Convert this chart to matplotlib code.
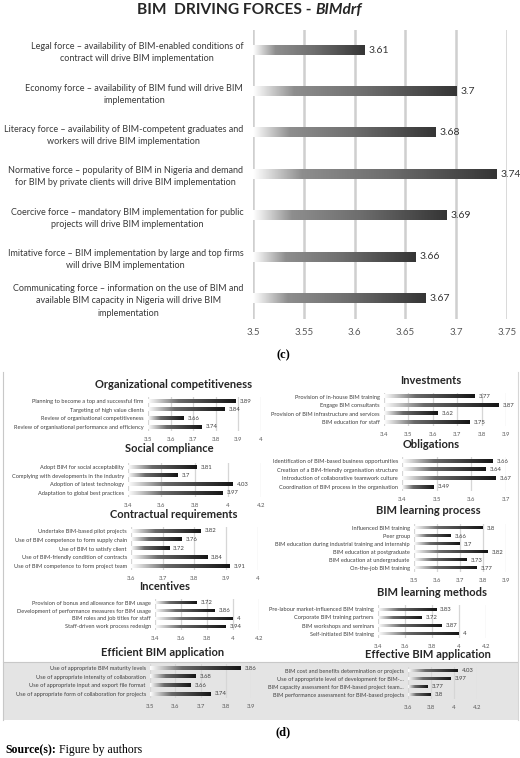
import numpy as np
import matplotlib
matplotlib.use('Agg')
import matplotlib.pyplot as plt
from matplotlib.colors import LinearSegmentedColormap
from matplotlib.patches import Rectangle
from matplotlib.lines import Line2D

plt.rcParams['font.family'] = ['Lato', 'DejaVu Sans']

W, H = 520, 758

# ---- (c) BIM driving forces ----
drf_labels = ['Legal force \u2013 availability of BIM-enabled conditions of\ncontract will drive BIM implementation',
              'Economy force \u2013 availability of BIM fund will drive BIM\nimplementation',
              'Literacy force \u2013 availability of BIM-competent graduates and\nworkers will drive BIM implementation',
              'Normative force \u2013 popularity of BIM in Nigeria and demand\nfor BIM by private clients will drive BIM implementation',
              'Coercive force \u2013 mandatory BIM implementation for public\nprojects will drive BIM implementation',
              'Imitative force \u2013 BIM implementation by large and top firms\nwill drive BIM implementation',
              'Communicating force \u2013 information on the use of BIM and\navailable BIM capacity in Nigeria will drive BIM\nimplementation']
drf_values = [3.61, 3.7, 3.68, 3.74, 3.69, 3.66, 3.67]
drf_ticks = [3.5, 3.55, 3.6, 3.65, 3.7, 3.75]

# ---- (d) small charts ----
org_labels = ['Planning to become a top and successful firm', 'Targeting of high value clients',
              'Review of organisational competitiveness', 'Review of organisational performance and efficiency']
org_values = [3.89, 3.84, 3.66, 3.74]
org_ticks = [3.5, 3.6, 3.7, 3.8, 3.9, 4]

soc_labels = ['Adopt BIM for social acceptability', 'Complying with developments in the industry',
              'Adoption of latest technology', 'Adaptation to global best practices']
soc_values = [3.81, 3.7, 4.03, 3.97]
soc_ticks = [3.4, 3.6, 3.8, 4, 4.2]

con_labels = ['Undertake BIM-based pilot projects', 'Use of BIM competence to form supply chain',
              'Use of BIM to satisfy client', 'Use of BIM-friendly condition of contracts',
              'Use of BIM competence to form project team']
con_values = [3.82, 3.76, 3.72, 3.84, 3.91]
con_ticks = [3.6, 3.7, 3.8, 3.9, 4]

inc_labels = ['Provision of bonus and allowance for BIM usage', 'Development of performance measures for BIM usage',
              'BIM roles and job titles for staff', 'Staff-driven work process redesign']
inc_values = [3.72, 3.86, 4, 3.94]
inc_ticks = [3.4, 3.6, 3.8, 4, 4.2]

eff_labels = ['Use of appropriate BIM maturity levels', 'Use of appropriate intensity of collaboration',
              'Use of appropriate input and export file format', 'Use of appropriate form of collaboration for projects']
eff_values = [3.86, 3.68, 3.66, 3.74]
eff_ticks = [3.5, 3.6, 3.7, 3.8, 3.9]

inv_labels = ['Provision of in-house BIM training', 'Engage BIM consultants',
              'Provision of BIM infrastructure and services', 'BIM education for staff']
inv_values = [3.77, 3.87, 3.62, 3.75]
inv_ticks = [3.4, 3.5, 3.6, 3.7, 3.8, 3.9]

obl_labels = ['Identification of BIM-based business opportunities', 'Creation of a BIM-friendly organisation structure',
              'Introduction of collaborative teamwork culture', 'Coordination of BIM process in the organisation']
obl_values = [3.66, 3.64, 3.67, 3.49]
obl_ticks = [3.4, 3.5, 3.6, 3.7]

lp_labels = ['Influenced BIM training', 'Peer group', 'BIM education during industrial training and internship',
             'BIM education at postgraduate', 'BIM education at undergraduate', 'On-the-job BIM training']
lp_values = [3.8, 3.66, 3.7, 3.82, 3.73, 3.77]
lp_ticks = [3.5, 3.6, 3.7, 3.8, 3.9]

lm_labels = ['Pre-labour market-influenced BIM training', 'Corporate BIM training partners',
             'BIM workshops and seminars', 'Self-initiated BIM training']
lm_values = [3.83, 3.72, 3.87, 4]
lm_ticks = [3.4, 3.6, 3.8, 4, 4.2]

efv_labels = ['BIM cost and benefits determination or projects', 'Use of appropriate level of development for BIM-...',
              'BIM capacity assessment for BIM-based project team...', 'BIM performance assessment for BIM-based projects']
efv_values = [4.03, 3.97, 3.77, 3.8]
efv_ticks = [3.6, 3.8, 4, 4.2]

big_cmap = LinearSegmentedColormap.from_list('big', [(0, '#ffffff'), (0.2, '#8e8e8e'), (0.55, '#6e6e6e'), (1, '#353535')])
small_cmap = LinearSegmentedColormap.from_list('small', [(0, '#ffffff'), (0.35, '#6a6a6a'), (1, '#151515')])


def px_axes(fig, left, top, right, bottom):
    return fig.add_axes([left / W, 1 - bottom / H, (right - left) / W, (bottom - top) / H])


def grad_bars(ax, values, x0, cmap, h):
    y = np.arange(len(values))
    bars = ax.barh(y, np.array(values) - x0, left=x0, height=h, color='none', zorder=3)
    grad = np.linspace(0, 1, 256).reshape(1, -1)
    for b in bars:
        ax.imshow(grad, cmap=cmap, aspect='auto', interpolation='bilinear', zorder=2,
                  extent=(b.get_x(), b.get_x() + b.get_width(), b.get_y() + b.get_height(), b.get_y()))
    return bars


def fmt(v):
    return '%g' % v


fig = plt.figure(figsize=(W / 100, H / 100), dpi=100)
ax_t = fig.add_axes([0, 0, 1, 1], frameon=False)
ax_t.set_axis_off()

# title
t1 = fig.text(137 / W, 1 - 10 / H, 'BIM  DRIVING FORCES - ', fontsize=11.2, fontweight='bold',
              color='#262626', ha='left', va='center')
ax_t.annotate('BIMdrf', xy=(1, 0.5), xycoords=t1, va='center', ha='left', fontsize=11.2,
              fontweight='bold', style='italic', color='#262626', annotation_clip=False)

# (c) chart
ax = px_axes(fig, 253, 29.5, 507, 319)
grad_bars(ax, drf_values, drf_ticks[0], big_cmap, 0.22)
ax.set_xlim(drf_ticks[0], drf_ticks[-1])
ax.set_ylim(len(drf_values) - 0.5, -0.5)
ax.set_xticks(drf_ticks, [fmt(t) for t in drf_ticks])
ax.set_yticks(np.arange(len(drf_labels)), drf_labels)
for t in ax.get_yticklabels():
    t.set_multialignment('center')
    t.set_linespacing(1.45)
ax.tick_params(axis='y', length=0, pad=7, labelsize=6.45, labelcolor='#3a3a3a')
ax.tick_params(axis='x', length=0, pad=6.5, labelsize=7, labelcolor='#595959')
ax.grid(axis='x', color='#cfcfcf', lw=1.8, zorder=0)
for s in ax.spines.values():
    s.set_visible(False)
for i, v in enumerate(drf_values):
    ax.annotate(fmt(v), xy=(v, i), xytext=(3, 0), textcoords='offset points', va='center',
                ha='left', fontsize=7.5, color='#333333')

fig.text(283 / W, 1 - 355 / H, '(c)', family='Liberation Serif', fontweight='bold', fontsize=9,
         ha='center', va='center')

# panel (d) frame and grey strip
fig.add_artist(Rectangle((3 / W, 1 - 720 / H), 515 / W, 58 / H, transform=fig.transFigure,
                         facecolor='#e4e4e4', edgecolor='none', zorder=0))
fig.add_artist(Line2D([3 / W, 518 / W], [1 - 662 / H] * 2, color='#c8c8c8', lw=0.8))
fig.add_artist(Line2D([3 / W] * 2, [1 - 372 / H, 1 - 720 / H], color='#c8c8c8', lw=0.8))
fig.add_artist(Line2D([518 / W] * 2, [1 - 372 / H, 1 - 720 / H], color='#d6d6d6', lw=0.8))

small_charts = [
    ('Organizational competitiveness', org_labels, org_values, org_ticks, (148, 396.7, 260.5, 431.3), (174, 384)),
    ('Social compliance', soc_labels, soc_values, soc_ticks, (128, 462.7, 261, 497.3), (169, 449)),
    ('Contractual requirements', con_labels, con_values, con_ticks, (131, 526.6, 257.7, 570.4), (174, 515)),
    ('Incentives', inc_labels, inc_values, inc_ticks, (155, 599, 259, 630), (165, 586)),
    ('Efficient BIM application', eff_labels, eff_values, eff_ticks, (150, 663.7, 251, 698.3), (163, 652)),
    ('Investments', inv_labels, inv_values, inv_ticks, (384, 392.8, 506, 426.2), (431, 380)),
    ('Obligations', obl_labels, obl_values, obl_ticks, (402, 456.7, 506, 491.3), (431, 444)),
    ('BIM learning process', lp_labels, lp_values, lp_ticks, (414, 524, 506, 572), (428, 511)),
    ('BIM learning methods', lm_labels, lm_values, lm_ticks, (378, 605, 486, 638), (432, 592)),
    ('Effective BIM application', efv_labels, efv_values, efv_ticks, (408, 667, 477, 699), (428, 655)),
]

for title, labels, values, ticks, box, tpos in small_charts:
    a = px_axes(fig, *box)
    a.patch.set_alpha(0)
    grad_bars(a, values, ticks[0], small_cmap, 0.36)
    a.set_xlim(ticks[0], ticks[-1])
    a.set_ylim(len(values) - 0.5, -0.5)
    a.set_xticks(ticks, [fmt(t) for t in ticks])
    a.set_yticks(np.arange(len(labels)), labels)
    a.tick_params(axis='y', length=0, pad=3, labelsize=4.1, labelcolor='#404040')
    a.tick_params(axis='x', length=0, pad=4, labelsize=4.3, labelcolor='#595959')
    a.grid(axis='x', color='#d6d6d6', lw=0.9, zorder=0)
    for s in a.spines.values():
        s.set_visible(False)
    for i, v in enumerate(values):
        a.annotate(fmt(v), xy=(v, i), xytext=(3, 0), textcoords='offset points', va='center',
                   ha='left', fontsize=4.3, color='#404040')
    fig.text(tpos[0] / W, 1 - tpos[1] / H, title, fontsize=8, fontweight='bold', color='#262626',
             ha='center', va='center')

fig.text(283 / W, 1 - 732 / H, '(d)', family='Liberation Serif', fontweight='bold', fontsize=9,
         ha='center', va='center')
src = fig.text(5 / W, 1 - 750 / H, 'Source(s):', family='Liberation Serif', fontweight='bold',
               fontsize=8.5, ha='left', va='center')
ax_t.annotate(' Figure by authors', xy=(1, 0.5), xycoords=src, va='center', ha='left',
              family='Liberation Serif', fontsize=8.5, annotation_clip=False)

fig.savefig('out.png', dpi=100)
